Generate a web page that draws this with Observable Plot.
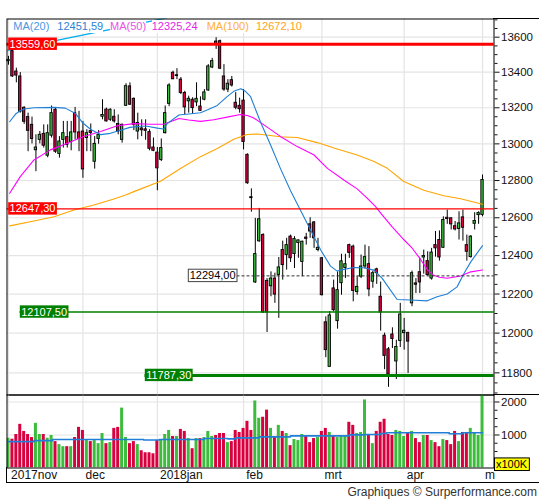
<!DOCTYPE html>
<html><head><meta charset="utf-8">
<script src="https://cdn.jsdelivr.net/npm/d3@7"></script>
<script src="https://cdn.jsdelivr.net/npm/@observablehq/plot@0.6"></script>
<style>
html,body{margin:0;padding:0;background:#fff;}
#wrap{position:relative;width:545px;height:500px;overflow:hidden;font-family:"Liberation Sans",Arial,sans-serif;}
#wrap svg{position:absolute;left:0;}
.hl{position:absolute;height:1px;background:#000;}
.vl{position:absolute;width:1px;background:#000;}
#legend span{position:absolute;top:20.4px;font-size:11px;line-height:13px;background:#fff;white-space:nowrap;}
#credit{position:absolute;top:485px;right:8px;font-size:12px;line-height:14px;color:#333;white-space:nowrap;}
</style></head>
<body><div id="wrap"></div>
<script>
// ---------- DATA ----------
// daily candles [open, high, low, close], trading-day index 0 = 6 Nov 2017
const candles = [
[13462,13490,13440,13470],[13520,13530,13371,13376],[13404,13423,13340,13381],[13376,13398,13170,13176],
[13200,13206,13108,13122],[13148,13170,12957,13072],[13105,13148,13000,13027],[12965,13050,12848,12980],
[13022,13068,13000,13050],[13055,13105,12977,12990],[12935,13105,12924,13059],[13045,13210,13032,13170],
[13189,13198,12948,12957],[12945,13040,12922,13013],[13022,13124,12977,13059],[13037,13124,12977,12995],
[13010,13124,12962,13063],[13170,13202,13022,13063],[13063,13180,12957,13027],[13068,13124,12812,12860],
[13032,13078,12957,13059],[13070,13110,12957,13060],[12902,13040,12862,13000],[13027,13073,12998,13050],
[13150,13245,13133,13160],[13190,13198,13121,13124],[13133,13194,13124,13189],[13150,13189,13115,13124],
[13110,13160,13050,13068],[13022,13110,13004,13105],[13211,13335,13207,13321],[13320,13340,13213,13217],
[13250,13255,13073,13105],[13068,13170,13022,13115],[13085,13133,13040,13075],[13080,13133,13020,13072],
[13065,13078,12962,12973],[12980,13032,12957,12962],[12952,12980,12745,12866],[12912,13027,12903,12977],
[13059,13210,13054,13170],[13222,13335,13206,13325],[13397,13406,13358,13360],[13378,13420,13358,13383],
[13358,13370,13274,13283],[13283,13292,13160,13202],[13236,13265,13170,13250],[13245,13256,13164,13198],
[13230,13340,13206,13250],[13207,13261,13180,13183],[13245,13302,13239,13286],[13297,13443,13292,13433],
[13427,13479,13420,13463],[13575,13597,13530,13560],[13577,13583,13415,13420],[13376,13443,13292,13302],
[13302,13358,13285,13335],[13355,13376,13316,13325],[13228,13285,13189,13200],[13211,13254,13170,13192],
[13240,13302,12967,13010],[12940,12945,12780,12785],[12710,12755,12630,12705],[12260,12597,12255,12408],
[12475,12650,12470,12592],[12508,12515,12100,12105],[12268,12280,12003,12105],[12240,12315,12186,12280],
[12280,12308,12152,12197],[12299,12390,12075,12338],[12429,12476,12272,12350],[12403,12491,12324,12455],
[12500,12508,12364,12386],[12408,12500,12332,12487],[12466,12482,12386,12480],[12367,12476,12290,12473],
[12495,12517,12455,12488],[12565,12600,12491,12527],[12575,12580,12438,12491],[12429,12491,12420,12441],
[12386,12390,12190,12194],[12055,12083,11876,11914],[11830,12110,11830,12090],[12229,12272,12108,12117],
[12061,12315,12020,12220],[12256,12407,12194,12370],[12335,12407,12280,12355],[12455,12460,12386,12414],
[12447,12455,12160,12216],[12210,12290,12194,12237],[12290,12403,12280,12343],[12343,12455,12330,12392],
[12355,12447,12186,12224],[12264,12319,12230,12308],[12328,12334,12250,12308],[12186,12262,12010,12105],
[11987,12000,11816,11885],[11918,11927,11728,11792],[11993,12027,11922,11970],[11857,11964,11767,11930],
[11960,12152,11927,12095],[12000,12075,11914,12012],[12000,12005,11797,11957],[12152,12319,12135,12308],
[12255,12280,12203,12248],[12313,12386,12203,12260],[12390,12429,12303,12398],[12371,12420,12293,12298],
[12280,12438,12272,12416],[12455,12527,12392,12438],[12482,12530,12371,12390],[12441,12605,12438,12588],
[12600,12641,12565,12593],[12597,12600,12535,12565],[12555,12580,12530,12538],[12540,12632,12482,12570],
[12602,12641,12476,12547],[12455,12508,12371,12420],[12392,12505,12387,12500],[12568,12627,12535,12583],
[12614,12632,12565,12625],[12615,12830,12605,12803]
];
// volume in units of 100K
const volumes = [903,872,1015,1323,1108,1015,923,1354,1015,1015,903,985,800,708,646,646,646,923,1231,1138,
831,800,831,738,1046,738,769,1200,1231,1815,923,738,800,708,523,462,462,431,831,862,
1015,1138,954,954,1169,1108,892,585,892,892,923,1108,954,985,1046,1046,769,800,1138,1077,
1200,1415,1138,2031,1508,1538,1754,1200,954,1292,1108,1046,677,862,831,1015,954,769,892,923,
1108,1200,1077,985,923,954,985,1385,1292,1046,1077,2062,985,738,1108,1385,1477,1015,985,1138,
1108,954,1046,1108,892,769,985,985,831,769,646,862,831,708,1108,800,1077,1077,1200,1077,985,2300];
// moving averages: [trading-day index, value]
const ma20 = [[0.3,13122],[1.8,13165],[3,13183],[4,13193],[6.5,13200],[11.6,13202],[14.5,13198],[17,13170],[19,13115],
[21,13079],[23.5,13051],[26,13058],[28.6,13075],[31,13091],[33.7,13097],[35.4,13097],[38,13087],[39.6,13082],[40.5,13112],
[43.5,13160],[46,13165],[49,13172],[51,13190],[53.3,13213],[55.8,13262],[57.5,13292],[59.3,13307],[60.5,13292],[61.8,13262],
[64.3,13122],[66.9,12994],[69.4,12866],[72,12745],[74.5,12641],[77.1,12535],[79.7,12429],[82.2,12345],[83.9,12319],
[85.6,12328],[88.2,12338],[90.7,12336],[93.3,12324],[95.4,12281],[97.5,12220],[99.2,12172],[102.6,12169],[106.9,12165],
[109.4,12186],[112,12200],[114.5,12237],[116.3,12308],[118,12367],[121,12452]];
const ma50 = [[0.3,12731],[3,12821],[6.5,12912],[10.7,12967],[15,13004],[19.2,13041],[23.5,13068],[27.8,13100],[32,13112],
[36.3,13108],[39.6,13108],[43.5,13140],[46,13132],[49,13124],[52.4,13133],[55.8,13148],[59.2,13162],[61,13157],[62.6,13143],
[65.2,13105],[69.4,13041],[73.7,12985],[78,12939],[81.4,12866],[85.6,12803],[89,12755],[91.6,12704],[93.7,12659],[95,12625],
[98,12550],[101,12482],[103,12440],[105,12385],[107,12325],[108.5,12297],[110,12287],[112,12282],[115.4,12293],[118,12315],[121,12325]];
const ma100 = [[0.3,12557],[6.5,12583],[11.6,12605],[16.7,12641],[21.8,12668],[26.9,12700],[29.9,12722],[32,12740],[38.8,12796],
[43.9,12865],[49,12930],[53.3,12975],[57.5,13025],[60.9,13052],[63.5,13054],[65.2,13050],[69.4,13039],[73.7,13035],[78.8,13007],
[83.9,12972],[89,12939],[93.3,12903],[96.7,12866],[100.9,12795],[106,12747],[111.1,12718],[115.4,12702],[121,12672]];
const volMA = [[0,800],[6.5,831],[11.3,862],[34.5,850],[38.5,862],[50,892],[56,882],[58,913],[64,944],[72,974],[87,1005],
[91,1015],[95,1046],[96.5,1067],[112.5,1036],[116,1067],[121,1067]];
const trend = [[-0.2,13524],[40.5,13712]];
const levelValues = [13559.6, 12647.3, 12107.5, 11787.3, 12294.0];
const legendNames = ["MA(20)", "MA(50)", "MA(100)"];
const legendValues = [12451.59, 12325.24, 12672.10];
const monthTicks = [0, 19, 38, 60, 80, 101, 121];
const monthLabels = ["2017nov", "dec", "2018jan", "feb", "mrt", "apr", "m"];
const priceTicks = [11800, 12000, 12200, 12400, 12600, 12800, 13000, 13200, 13400, 13600];
const volTicks = [1000, 2000];
const unitLabel = "x100K";
const credit = "Graphiques © Surperformance.com";

// ---------- STYLE / LAYOUT ----------
const FONT = '"Liberation Sans", Arial, sans-serif';
const GREEN = "#3cbc3c", RED = "#d8003f", GRID = "#e4e4e4";
const levelStyles = [
  {stroke:"#ff0000", w:3, inset:0, box:"#ff0000", bstroke:null, fill:"#fff", dx:2.6},
  {stroke:"#ff0000", w:1.3, inset:0, box:"#ff0000", bstroke:null, fill:"#fff", dx:2.6},
  {stroke:"#008000", w:1.6, inset:13, box:"#008000", bstroke:null, fill:"#fff", dx:14.2},
  {stroke:"#008000", w:3, inset:138, box:"#008000", bstroke:null, fill:"#fff", dx:139.2},
  {stroke:"#333", w:1, inset:230, dash:"3,2", box:"#fff", bstroke:"#444", fill:"#000", dx:182.7}
];
const legendColors = [["#4a97e4","#2a82d8"],["#ea50ea","#e51ee5"],["#ffae35","#ffa21a"]];
const legendX = [[13.3,57.3],[110,151.7],[206.7,256]];
const fmt = v => d3.format(".2f")(v).replace(".", ",");

const rows = candles.map(([o,h,l,c], i) => ({i, o, h, l, c, up: c >= o}));
const vrows = volumes.map((v, i) => ({i, v, up: rows[i].up}));
const X = {domain: [-0.383, 123.93], axis: null};
const minorPrice = d3.range(11700, 13701, 50).filter(v => v % 200 !== 0);
const minorVol = d3.range(250, 2001, 250).filter(v => v % 1000 !== 0);
const baseStyle = {fontFamily: FONT, fontSize: "11.5px", color: "#111", background: "transparent", overflow: "visible"};
const xy = {x: d => d[0], y: d => d[1]};

const price = Plot.plot({
  width: 545, height: 396, marginTop: 18.5, marginBottom: 1.5, marginLeft: 6.5, marginRight: 51.5,
  style: baseStyle, x: X,
  y: {type: "log", domain: [11690, 13705], axis: null, label: null},
  marks: [
    Plot.gridY(priceTicks, {stroke: GRID, strokeOpacity: 1, strokeWidth: 1.2}),
    Plot.gridX(monthTicks, {stroke: GRID, strokeOpacity: 1, strokeWidth: 1.2}),
    Plot.line(trend, {...xy, stroke: "#00aeef", strokeWidth: 1.2, clip: true}),
    Plot.ruleX(rows, {x: "i", y1: "l", y2: "h", stroke: "#000", strokeWidth: 1}),
    Plot.rect(rows, {x1: d => d.i - 0.3, x2: d => d.i + 0.3, y1: "o", y2: "c",
      fill: d => d.up ? GREEN : RED, stroke: "#000", strokeWidth: 0.9}),
    Plot.line(ma100, {...xy, stroke: "#ffa500", strokeWidth: 1.1}),
    Plot.line(ma50, {...xy, stroke: "#ff00ff", strokeWidth: 1.1}),
    Plot.line(ma20, {...xy, stroke: "#1f7fd6", strokeWidth: 1.1}),
    ...levelValues.map((v, k) => Plot.ruleY([v], {stroke: levelStyles[k].stroke, strokeWidth: levelStyles[k].w,
      insetLeft: levelStyles[k].inset, strokeDasharray: levelStyles[k].dash})),
    ...levelValues.map((v, k) => Plot.text([v], {y: d => d, text: d => fmt(d), frameAnchor: "left", lineAnchor: "middle",
      dx: levelStyles[k].dx, textAnchor: "start", fill: levelStyles[k].fill, fontSize: 11})),
    Plot.axisY(priceTicks, {anchor: "right", label: null, tickSize: 5, tickPadding: 2, tickFormat: d => String(d), fontSize: 11.5}),
    Plot.axisY(minorPrice, {anchor: "right", label: null, tickSize: 3, tickFormat: () => ""}),
    Plot.frame({stroke: "#000", strokeWidth: 1})
  ]
});

const vol = Plot.plot({
  width: 545, height: 89, marginTop: 0.5, marginBottom: 15.5, marginLeft: 6.5, marginRight: 51.5,
  style: baseStyle, x: X,
  y: {domain: [0, 2212], axis: null, label: null},
  marks: [
    Plot.gridY(volTicks, {stroke: GRID, strokeOpacity: 1, strokeWidth: 1.2}),
    Plot.gridX(monthTicks, {stroke: GRID, strokeOpacity: 1, strokeWidth: 1.2}),
    Plot.rect(vrows, {x1: d => d.i - 0.383, x2: d => d.i + 0.383, y1: 0, y2: d => d.v,
      fill: d => d.up ? GREEN : RED, clip: true}),
    Plot.line(volMA, {...xy, curve: "step-after", stroke: "#1f7fd6", strokeWidth: 1.6}),
    Plot.axisY(volTicks, {anchor: "right", label: null, tickSize: 5, tickPadding: 2, tickFormat: d => String(d), fontSize: 11.5}),
    Plot.axisY(minorVol, {anchor: "right", label: null, tickSize: 3, tickFormat: () => ""}),
    Plot.text(monthTicks, {x: d => d, text: (d, k) => monthLabels[k], frameAnchor: "bottom", lineAnchor: "middle",
      dy: 7.2, dx: 2.6, textAnchor: "start", fontSize: 12, fill: "#111"}),
    Plot.text([unitLabel], {text: d => d, frameAnchor: "bottom-right", lineAnchor: "middle", dx: 2, dy: -3.3,
      textAnchor: "start", fontSize: 11, fill: "#000"}),
    Plot.frame({stroke: "#000", strokeWidth: 1})
  ]
});

const wrap = document.getElementById("wrap");
price.style.top = "0px";
vol.style.top = "394px";
wrap.appendChild(price);
wrap.appendChild(vol);

// background boxes behind the label texts (found by their content)
function boxes(svg, label, fill, stroke, padX, padY) {
  svg.querySelectorAll("text").forEach(t => {
    if (t.textContent !== label) return;
    const b = t.getBBox();
    const r = document.createElementNS("http://www.w3.org/2000/svg", "rect");
    r.setAttribute("x", b.x - padX); r.setAttribute("y", b.y - padY);
    r.setAttribute("width", b.width + 2 * padX); r.setAttribute("height", b.height + 2 * padY);
    r.setAttribute("fill", fill);
    if (stroke) { r.setAttribute("stroke", stroke); r.setAttribute("stroke-width", 1); }
    const tr = t.getAttribute("transform"); if (tr) r.setAttribute("transform", tr);
    t.parentNode.insertBefore(r, t);
  });
}
levelValues.forEach((v, k) => boxes(price, fmt(v), levelStyles[k].box, levelStyles[k].bstroke, 1.4, 0.2));
boxes(vol, unitLabel, "#ffff00", "#000", 1.5, 0.3);

// legend
const leg = document.createElement("div"); leg.id = "legend";
legendNames.forEach((n, k) => {
  const a = document.createElement("span"); a.textContent = n; a.style.left = legendX[k][0] + "px"; a.style.color = legendColors[k][0];
  const b = document.createElement("span"); b.textContent = fmt(legendValues[k]); b.style.left = legendX[k][1] + "px"; b.style.color = legendColors[k][1];
  leg.appendChild(a); leg.appendChild(b);
});
wrap.appendChild(leg);

// outer frame extensions
[["hl", 493, 18, 46], ["hl", 493, 394, 46], ["hl", 6, 482, 533]].forEach(([c, l, t, w]) => {
  const d = document.createElement("div"); d.className = c; d.style.left = l + "px"; d.style.top = t + "px"; d.style.width = w + "px"; wrap.appendChild(d);
});
const vl = document.createElement("div"); vl.className = "vl"; vl.style.left = "6px"; vl.style.top = "467px"; vl.style.height = "16px"; wrap.appendChild(vl);

const cr = document.createElement("div"); cr.id = "credit"; cr.textContent = credit; wrap.appendChild(cr);
</script></body></html>
